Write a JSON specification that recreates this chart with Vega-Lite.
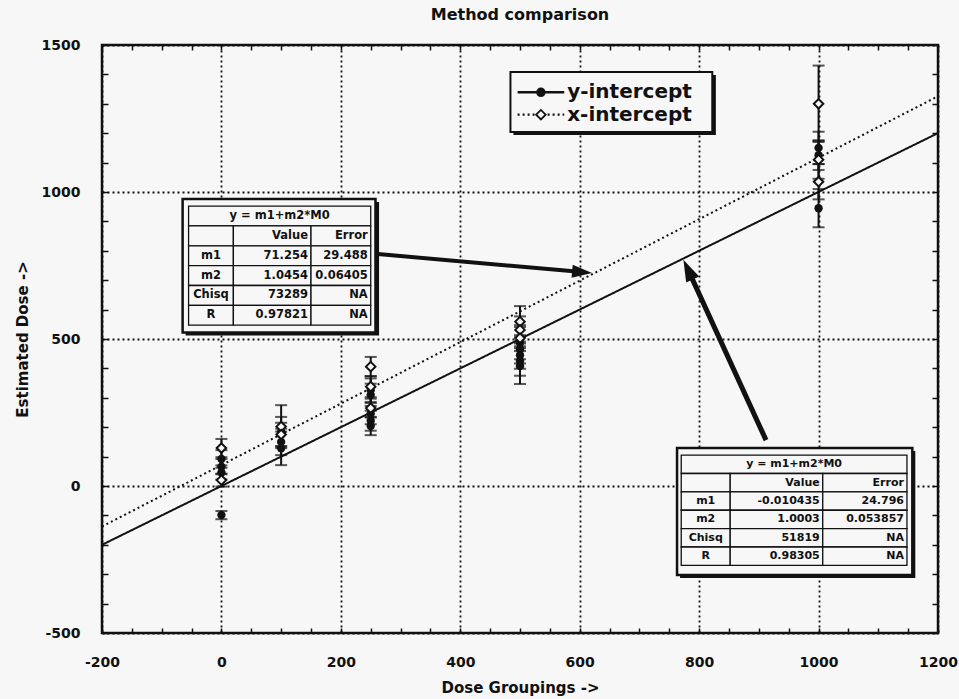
{
  "$schema": "https://vega.github.io/schema/vega-lite/v6.json",
  "width": 836,
  "height": 588,
  "autosize": {"type": "none"},
  "padding": {"left": 102, "top": 45, "right": 21, "bottom": 66},
  "background": "#f7f7f7",
  "title": {"text": "Method comparison", "anchor": "middle", "frame": "group", "offset": 15, "fontSize": 16, "font": "DejaVu Sans", "fontWeight": "bold", "color": "#111"},
  "datasets": {
    "fits": [
      {"method": "y-intercept", "dose": -200, "est": -200.07},
      {"method": "y-intercept", "dose": 1200, "est": 1200.35},
      {"method": "x-intercept", "dose": -200, "est": -137.83},
      {"method": "x-intercept", "dose": 1200, "est": 1325.73}
    ],
    "obs": [
      {"dose": 0, "est": 92, "err": 30, "method": "y-intercept"},
      {"dose": 0, "est": 66, "err": 26, "method": "y-intercept"},
      {"dose": 0, "est": 46, "err": 24, "method": "y-intercept"},
      {"dose": 0, "est": -99, "err": 14, "method": "y-intercept"},
      {"dose": 100, "est": 185, "err": 50, "method": "y-intercept"},
      {"dose": 100, "est": 150, "err": 45, "method": "y-intercept"},
      {"dose": 100, "est": 128, "err": 57, "method": "y-intercept"},
      {"dose": 250, "est": 326, "err": 40, "method": "y-intercept"},
      {"dose": 250, "est": 310, "err": 38, "method": "y-intercept"},
      {"dose": 250, "est": 246, "err": 36, "method": "y-intercept"},
      {"dose": 250, "est": 222, "err": 34, "method": "y-intercept"},
      {"dose": 250, "est": 204, "err": 31, "method": "y-intercept"},
      {"dose": 500, "est": 486, "err": 55, "method": "y-intercept"},
      {"dose": 500, "est": 465, "err": 48, "method": "y-intercept"},
      {"dose": 500, "est": 445, "err": 46, "method": "y-intercept"},
      {"dose": 500, "est": 425, "err": 50, "method": "y-intercept"},
      {"dose": 500, "est": 408, "err": 61, "method": "y-intercept"},
      {"dose": 1000, "est": 1150, "err": 55, "method": "y-intercept"},
      {"dose": 1000, "est": 1125, "err": 50, "method": "y-intercept"},
      {"dose": 1000, "est": 945, "err": 65, "method": "y-intercept"},
      {"dose": 0, "est": 129, "err": 31, "method": "x-intercept"},
      {"dose": 0, "est": 20, "err": 22, "method": "x-intercept"},
      {"dose": 100, "est": 202, "err": 73, "method": "x-intercept"},
      {"dose": 100, "est": 175, "err": 40, "method": "x-intercept"},
      {"dose": 250, "est": 406, "err": 33, "method": "x-intercept"},
      {"dose": 250, "est": 338, "err": 36, "method": "x-intercept"},
      {"dose": 250, "est": 265, "err": 32, "method": "x-intercept"},
      {"dose": 500, "est": 559, "err": 53, "method": "x-intercept"},
      {"dose": 500, "est": 531, "err": 46, "method": "x-intercept"},
      {"dose": 500, "est": 503, "err": 44, "method": "x-intercept"},
      {"dose": 1000, "est": 1300, "err": 130, "method": "x-intercept"},
      {"dose": 1000, "est": 1110, "err": 65, "method": "x-intercept"},
      {"dose": 1000, "est": 1035, "err": 60, "method": "x-intercept"}
    ],
    "cells": [
      {"table": "A", "r": 0, "c": 0, "text": "y = m1+m2*M0"},
      {"table": "A", "r": 1, "c": 0, "text": ""},
      {"table": "A", "r": 1, "c": 1, "text": "Value"},
      {"table": "A", "r": 1, "c": 2, "text": "Error"},
      {"table": "A", "r": 2, "c": 0, "text": "m1"},
      {"table": "A", "r": 2, "c": 1, "text": "71.254"},
      {"table": "A", "r": 2, "c": 2, "text": "29.488"},
      {"table": "A", "r": 3, "c": 0, "text": "m2"},
      {"table": "A", "r": 3, "c": 1, "text": "1.0454"},
      {"table": "A", "r": 3, "c": 2, "text": "0.06405"},
      {"table": "A", "r": 4, "c": 0, "text": "Chisq"},
      {"table": "A", "r": 4, "c": 1, "text": "73289"},
      {"table": "A", "r": 4, "c": 2, "text": "NA"},
      {"table": "A", "r": 5, "c": 0, "text": "R"},
      {"table": "A", "r": 5, "c": 1, "text": "0.97821"},
      {"table": "A", "r": 5, "c": 2, "text": "NA"},
      {"table": "B", "r": 0, "c": 0, "text": "y = m1+m2*M0"},
      {"table": "B", "r": 1, "c": 0, "text": ""},
      {"table": "B", "r": 1, "c": 1, "text": "Value"},
      {"table": "B", "r": 1, "c": 2, "text": "Error"},
      {"table": "B", "r": 2, "c": 0, "text": "m1"},
      {"table": "B", "r": 2, "c": 1, "text": "-0.010435"},
      {"table": "B", "r": 2, "c": 2, "text": "24.796"},
      {"table": "B", "r": 3, "c": 0, "text": "m2"},
      {"table": "B", "r": 3, "c": 1, "text": "1.0003"},
      {"table": "B", "r": 3, "c": 2, "text": "0.053857"},
      {"table": "B", "r": 4, "c": 0, "text": "Chisq"},
      {"table": "B", "r": 4, "c": 1, "text": "51819"},
      {"table": "B", "r": 4, "c": 2, "text": "NA"},
      {"table": "B", "r": 5, "c": 0, "text": "R"},
      {"table": "B", "r": 5, "c": 1, "text": "0.98305"},
      {"table": "B", "r": 5, "c": 2, "text": "NA"}
    ]
  },
  "config": {
    "font": "DejaVu Sans",
    "view": {"stroke": "#111", "strokeWidth": 2.5},
    "axis": {
      "labelFont": "DejaVu Sans", "labelFontWeight": "bold", "labelFontSize": 14, "labelColor": "#111",
      "titleFont": "DejaVu Sans", "titleFontWeight": "bold", "titleFontSize": 15, "titleColor": "#111",
      "gridColor": "#111", "gridDash": [2, 3], "gridWidth": 1.8, "gridOpacity": 1,
      "tickColor": "#111", "tickWidth": 1.5, "domain": false, "labelFlush": false, "labelOverlap": false, "labelBound": false
    },
    "text": {"font": "DejaVu Sans", "fontWeight": "bold", "color": "#111"}
  },
  "resolve": {"axis": {"x": "independent", "y": "independent"}},
  "layer": [
    {
      "layer": [
        {
          "data": {"name": "fits"},
          "mark": {"type": "line", "strokeWidth": 2, "color": "#111"},
          "encoding": {
            "x": {
              "field": "dose", "type": "quantitative", "title": "Dose Groupings ->",
              "scale": {"domain": [-200, 1200], "nice": false, "zero": false},
              "axis": {
                "orient": "bottom", "values": [-200, 0, 200, 400, 600, 800, 1000, 1200],
                "labelExpr": "'' + datum.value", "grid": true,
                "tickSize": -5, "labelPadding": 27, "titlePadding": 11
              }
            },
            "y": {
              "field": "est", "type": "quantitative", "title": "Estimated Dose ->",
              "scale": {"domain": [-500, 1500], "nice": false, "zero": false},
              "axis": {
                "orient": "left", "values": [-500, 0, 500, 1000, 1500],
                "labelExpr": "'' + datum.value", "grid": true,
                "tickSize": -6, "labelPadding": 28, "titlePadding": 11
              }
            },
            "detail": {"field": "method"},
            "strokeDash": {"field": "method", "type": "nominal", "scale": {"domain": ["y-intercept", "x-intercept"], "range": [[1, 0], [2, 3]]}, "legend": null}
          }
        },
        {
          "data": {"name": "obs"},
          "mark": {"type": "errorbar", "ticks": true, "size": 12, "thickness": 2, "color": "#111"},
          "encoding": {
            "x": {"field": "dose", "type": "quantitative", "title": "Dose Groupings ->"},
            "y": {"field": "est", "type": "quantitative", "title": "Estimated Dose ->"},
            "yError": {"field": "err"}
          }
        },
        {
          "data": {"name": "obs"},
          "transform": [{"filter": "datum.method === 'y-intercept'"}],
          "mark": {"type": "point", "shape": "circle", "filled": true, "color": "#111", "size": 70, "opacity": 1},
          "encoding": {
            "x": {"field": "dose", "type": "quantitative"},
            "y": {"field": "est", "type": "quantitative"}
          }
        },
        {
          "data": {"name": "obs"},
          "transform": [{"filter": "datum.method === 'x-intercept'"}],
          "mark": {"type": "point", "shape": "diamond", "filled": true, "fill": "#f7f7f7", "stroke": "#111", "strokeWidth": 2, "size": 90, "opacity": 1},
          "encoding": {
            "x": {"field": "dose", "type": "quantitative"},
            "y": {"field": "est", "type": "quantitative"}
          }
        },
        {
          "data": {"values": [{}]},
          "mark": {"type": "rect", "fill": "#111"},
          "encoding": {"x": {"datum": -60}, "x2": {"datum": 264}, "y": {"datum": 966}, "y2": {"datum": 512}}
        },
        {
          "data": {"values": [{}]},
          "mark": {"type": "rect", "fill": "#f7f7f7", "stroke": "#111", "strokeWidth": 2.5},
          "encoding": {"x": {"datum": -65}, "x2": {"datum": 258}, "y": {"datum": 976}, "y2": {"datum": 522}}
        },
        {
          "data": {"values": [{}]},
          "mark": {"type": "rect", "fill": "#111"},
          "encoding": {"x": {"datum": 768}, "x2": {"datum": 1162}, "y": {"datum": 119}, "y2": {"datum": -313}}
        },
        {
          "data": {"values": [{}]},
          "mark": {"type": "rect", "fill": "#f7f7f7", "stroke": "#111", "strokeWidth": 2.5},
          "encoding": {"x": {"datum": 763}, "x2": {"datum": 1157}, "y": {"datum": 129}, "y2": {"datum": -303}}
        },
        {
          "data": {"name": "cells"},
          "transform": [
            {"calculate": "datum.table === 'A' ? [-55, 20, 150, 250] : [770, 852, 1007, 1148]", "as": "edges"},
            {"calculate": "datum.edges[datum.c]", "as": "x0"},
            {"calculate": "datum.r === 0 ? datum.edges[3] : datum.edges[datum.c + 1]", "as": "x1"},
            {"calculate": "datum.table === 'A' ? 67.5 : 62.5", "as": "rh"},
            {"calculate": "(datum.table === 'A' ? 952 : 105) - datum.r * datum.rh", "as": "y0"},
            {"calculate": "datum.y0 - datum.rh", "as": "y1"},
            {"calculate": "(datum.x0 + datum.x1) / 2", "as": "xm"},
            {"calculate": "(datum.y0 + datum.y1) / 2", "as": "ym"}
          ],
          "layer": [
            {
              "mark": {"type": "rect", "fill": "#f7f7f7", "stroke": "#111", "strokeWidth": 1.3},
              "encoding": {
                "x": {"field": "x0", "type": "quantitative"},
                "x2": {"field": "x1"},
                "y": {"field": "y0", "type": "quantitative"},
                "y2": {"field": "y1"}
              }
            },
            {
              "transform": [{"filter": "datum.r === 0 || datum.c === 0"}],
              "mark": {"type": "text", "align": "center", "baseline": "middle"},
              "encoding": {
                "x": {"field": "xm", "type": "quantitative"},
                "y": {"field": "ym", "type": "quantitative"},
                "text": {"field": "text"},
                "size": {"field": "table", "type": "nominal", "scale": {"domain": ["A", "B"], "range": [11.5, 11]}, "legend": null}
              }
            },
            {
              "transform": [{"filter": "datum.r > 0 && datum.c > 0"}],
              "mark": {"type": "text", "align": "right", "baseline": "middle", "dx": -3},
              "encoding": {
                "x": {"field": "x1", "type": "quantitative"},
                "y": {"field": "ym", "type": "quantitative"},
                "text": {"field": "text"},
                "size": {"field": "table", "type": "nominal", "scale": {"domain": ["A", "B"], "range": [11.5, 11]}, "legend": null}
              }
            }
          ]
        },
        {
          "data": {"values": [{}]},
          "mark": {"type": "rule", "strokeWidth": 4, "color": "#111"},
          "encoding": {"x": {"datum": 262}, "y": {"datum": 789}, "x2": {"datum": 604}, "y2": {"datum": 727.5}}
        },
        {
          "data": {"values": [{}]},
          "mark": {"type": "point", "shape": "M0,-1L0.65,1L-0.65,1Z", "filled": true, "color": "#111", "size": 400, "angle": 95, "opacity": 1},
          "encoding": {"x": {"datum": 604}, "y": {"datum": 727.5}}
        },
        {
          "data": {"values": [{}]},
          "mark": {"type": "rule", "strokeWidth": 5, "color": "#111"},
          "encoding": {"x": {"datum": 912}, "y": {"datum": 156}, "x2": {"datum": 781.4}, "y2": {"datum": 736}}
        },
        {
          "data": {"values": [{}]},
          "mark": {"type": "point", "shape": "M0,-1L0.65,1L-0.65,1Z", "filled": true, "color": "#111", "size": 484, "angle": 335, "opacity": 1},
          "encoding": {"x": {"datum": 781.4}, "y": {"datum": 736}}
        },
        {
          "data": {"values": [{}]},
          "mark": {"type": "rect", "fill": "#111"},
          "encoding": {"x": {"datum": 489}, "x2": {"datum": 828}, "y": {"datum": 1398}, "y2": {"datum": 1194}}
        },
        {
          "data": {"values": [{}]},
          "mark": {"type": "rect", "fill": "#f7f7f7", "stroke": "#111", "strokeWidth": 2},
          "encoding": {"x": {"datum": 484}, "x2": {"datum": 822}, "y": {"datum": 1408}, "y2": {"datum": 1204}}
        },
        {
          "data": {"values": [{}]},
          "mark": {"type": "rule", "strokeWidth": 2.5, "color": "#111"},
          "encoding": {"x": {"datum": 496}, "x2": {"datum": 574}, "y": {"datum": 1339}}
        },
        {
          "data": {"values": [{}]},
          "mark": {"type": "point", "shape": "circle", "filled": true, "color": "#111", "size": 90, "opacity": 1},
          "encoding": {"x": {"datum": 535}, "y": {"datum": 1339}}
        },
        {
          "data": {"values": [{}]},
          "mark": {"type": "rule", "strokeWidth": 2.2, "strokeDash": [2, 3], "color": "#111"},
          "encoding": {"x": {"datum": 496}, "x2": {"datum": 574}, "y": {"datum": 1263}}
        },
        {
          "data": {"values": [{}]},
          "mark": {"type": "point", "shape": "diamond", "filled": true, "fill": "#f7f7f7", "stroke": "#111", "strokeWidth": 1.8, "size": 90, "opacity": 1},
          "encoding": {"x": {"datum": 535}, "y": {"datum": 1263}}
        },
        {
          "data": {"values": [{"label": "y-intercept"}]},
          "mark": {"type": "text", "align": "left", "baseline": "middle", "fontSize": 20},
          "encoding": {"x": {"datum": 579}, "y": {"datum": 1339}, "text": {"field": "label"}}
        },
        {
          "data": {"values": [{"label": "x-intercept"}]},
          "mark": {"type": "text", "align": "left", "baseline": "middle", "fontSize": 20},
          "encoding": {"x": {"datum": 579}, "y": {"datum": 1263}, "text": {"field": "label"}}
        }
      ]
    },
    {
      "data": {"values": [{}]},
      "mark": {"type": "point", "opacity": 0},
      "encoding": {
        "x": {
          "datum": 0, "type": "quantitative",
          "axis": {
            "orient": "bottom", "title": null, "labels": false, "grid": false, "tickSize": -5,
            "values": [-150, -100, -50, 50, 100, 150, 250, 300, 350, 450, 500, 550, 650, 700, 750, 850, 900, 950, 1050, 1100, 1150]
          }
        },
        "y": {
          "datum": 0, "type": "quantitative",
          "axis": {
            "orient": "left", "title": null, "labels": false, "grid": false, "tickSize": -6,
            "values": [-400, -300, -200, -100, 100, 200, 300, 400, 600, 700, 800, 900, 1100, 1200, 1300, 1400]
          }
        }
      }
    },
    {
      "data": {"values": [{}]},
      "mark": {"type": "point", "opacity": 0},
      "encoding": {
        "x": {
          "datum": 0, "type": "quantitative",
          "axis": {
            "orient": "top", "title": null, "labels": false, "grid": false, "tickSize": -5,
            "values": [-200, -150, -100, -50, 0, 50, 100, 150, 200, 250, 300, 350, 400, 450, 500, 550, 600, 650, 700, 750, 800, 850, 900, 950, 1000, 1050, 1100, 1150, 1200]
          }
        },
        "y": {
          "datum": 0, "type": "quantitative",
          "axis": {
            "orient": "right", "title": null, "labels": false, "grid": false, "tickSize": -6,
            "values": [-500, -400, -300, -200, -100, 0, 100, 200, 300, 400, 500, 600, 700, 800, 900, 1000, 1100, 1200, 1300, 1400, 1500]
          }
        }
      }
    }
  ]
}
